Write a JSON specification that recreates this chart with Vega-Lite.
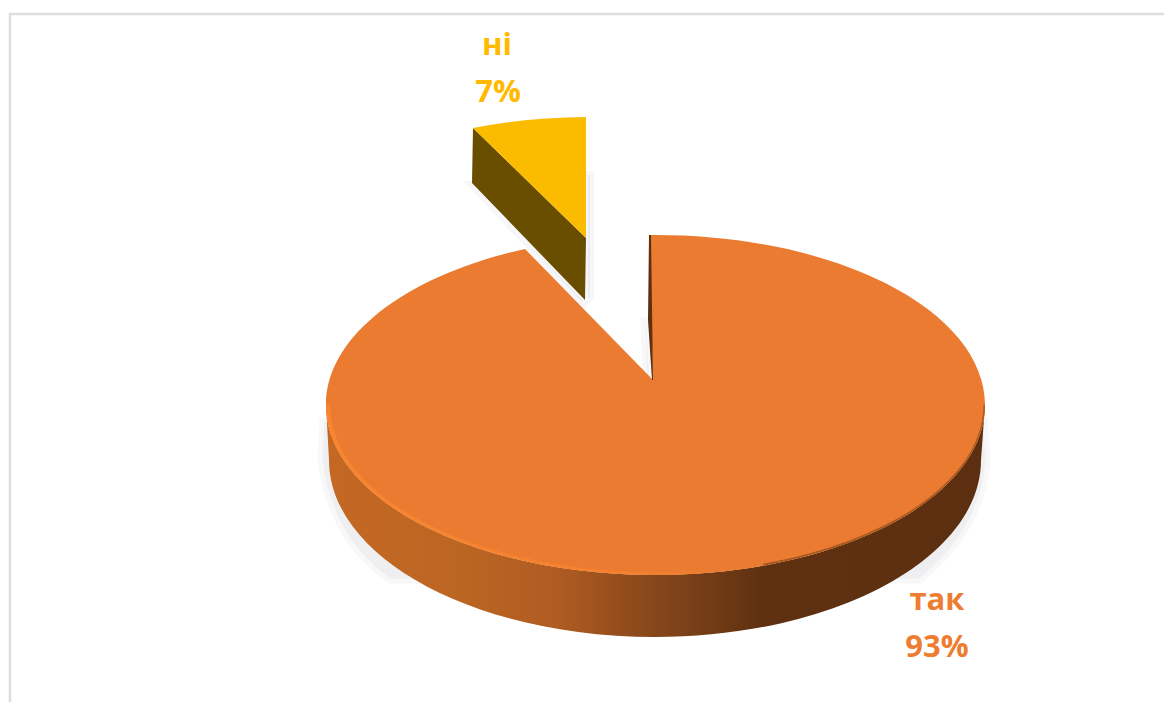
{
"$schema":"https://vega.github.io/schema/vega-lite/v6.json",
"width":1164,"height":702,
"autosize":{"type":"fit","contains":"padding"},
"padding":0,
"background":"white",
"config":{"view":{"stroke":null}},
"data":{"values":[{"category":"так","value":93,"percent":"93%"},{"category":"ні","value":7,"percent":"7%"}]},
"encoding":{
 "x":{"field":"category","type":"nominal","axis":null,"scale":{"type":"point","domain":["так","ні"],"range":[653,586],"padding":0}},
 "y":{"field":"category","type":"nominal","axis":null,"scale":{"type":"point","domain":["так","ні"],"range":[380,238],"padding":0}}
},
"layer":[
 {"transform":[{"filter":"datum.category==='так'"}],
  "mark":{"type":"point","size":4,"opacity":1,"filled":false,"strokeWidth":2.5,"stroke":"#DDDDDD","shape":"M-643 322L-643 -366L511 -366"}},
 {"transform":[{"filter":"datum.category==='так'"}],
  "mark":{"type":"point","size":4,"opacity":1,"filled":true,"fill":"#EFEFF1","stroke":"#F8F8F9","strokeWidth":5,"shape":"M-331 40L-333 80Q-323 160 -263 201L-223 201L-313 40ZM332 40L335 80Q330 150 267 201L227 201L307 40ZM-5 -60L-10 -60L-8 0L-1 0Z"}},
 {"transform":[{"filter":"datum.category==='ні'"}],
  "mark":{"type":"point","size":4,"opacity":1,"filled":true,"fill":"#ECECF0","stroke":"#F7F7F9","strokeWidth":4,"shape":"M0 -65L6 -65L6 60L0 66ZM-118 -55L-3 68L-1 62L-114 -55Z"}},
 {"transform":[{"filter":"datum.category==='так'"}],
  "mark":{"type":"point","size":4,"opacity":1,"filled":true,
   "fill":{"gradient":"linear","x1":0,"x2":1,"y1":0,"y2":0,"stops":[{"offset":0,"color":"#C46823"},{"offset":0.2,"color":"#BC6623"},{"offset":0.35,"color":"#B05C22"},{"offset":0.45,"color":"#934D1C"},{"offset":0.55,"color":"#7A4018"},{"offset":0.66,"color":"#5F3110"},{"offset":1,"color":"#5C2F10"}]},
   "shape":"M-327 25L-324 80A326 177 0 0 0 328 80L332 25A329.5 170 0 0 1 -327 25Z"}},
 {"transform":[{"filter":"datum.category==='так'"}],
  "mark":{"type":"point","size":4,"opacity":1,"filled":true,"fill":"#EA7B31",
   "shape":"M0 0L-4 -145A329.5 170 0 0 1 332 25A329.5 170 0 0 1 -327 25A329.5 170 0 0 1 -128 -131.1Z"}},
 {"transform":[{"filter":"datum.category==='так'"}],
  "mark":{"type":"point","size":4,"opacity":1,"filled":true,
   "fill":{"gradient":"linear","x1":0,"x2":1,"y1":0,"y2":0,"stops":[{"offset":0,"color":"#F8852F"},{"offset":0.6,"color":"#F5822F"},{"offset":1,"color":"#EA7B31"}]},
   "shape":"M-327 25A329.5 170 0 0 0 2.5 195A329.5 170 0 0 0 110 185.7A329.5 170 0 0 1 2.5 192A325.5 167 0 0 1 -323 25Z"}},
 {"transform":[{"filter":"datum.category==='так'"}],
  "mark":{"type":"point","size":4,"opacity":1,"filled":true,"fill":"#A9591F",
   "shape":"M332 25A329.5 170 0 0 1 110 185.7L110 183.7A328 168 0 0 0 330.5 25Z"}},
 {"transform":[{"filter":"datum.category==='так'"}],
  "mark":{"type":"point","size":4,"opacity":1,"filled":true,"fill":"#5E3010",
   "shape":"M-4 -145L-5 -60L-1 0L0 0L-2 -145Z"}},
 {"transform":[{"filter":"datum.category==='ні'"}],
  "mark":{"type":"point","size":4,"opacity":1,"filled":true,"fill":"#6A4E00",
   "shape":"M-113 -110L-114 -55L-1 62L0 0Z"}},
 {"transform":[{"filter":"datum.category==='ні'"}],
  "mark":{"type":"point","size":4,"opacity":1,"filled":true,"fill":"#FBBC00",
   "shape":"M0 0L-113 -110A329.5 170 0 0 1 0 -121Z"}},
 {"mark":{"type":"text","font":"Open Sans","fontWeight":"bold","fontSize":31,"align":"center","baseline":"alphabetic"},
  "encoding":{
   "x":{"field":"category","type":"nominal","axis":null,"scale":{"type":"point","domain":["так","ні"],"range":[937,497],"padding":0}},
   "y":{"field":"category","type":"nominal","axis":null,"scale":{"type":"point","domain":["так","ні"],"range":[610,55],"padding":0}},
   "text":{"field":"category","type":"nominal"},
   "color":{"field":"category","type":"nominal","legend":null,"scale":{"domain":["так","ні"],"range":["#ED7D31","#FFBA00"]}}}},
 {"mark":{"type":"text","font":"Open Sans","fontWeight":"bold","fontSize":31,"align":"center","baseline":"alphabetic"},
  "encoding":{
   "x":{"field":"category","type":"nominal","axis":null,"scale":{"type":"point","domain":["так","ні"],"range":[937,498],"padding":0}},
   "y":{"field":"category","type":"nominal","axis":null,"scale":{"type":"point","domain":["так","ні"],"range":[657,102],"padding":0}},
   "text":{"field":"percent","type":"nominal"},
   "color":{"field":"category","type":"nominal","legend":null,"scale":{"domain":["так","ні"],"range":["#ED7D31","#FFBA00"]}}}}
],
"resolve":{"scale":{"x":"independent","y":"independent","color":"independent"}}
}
